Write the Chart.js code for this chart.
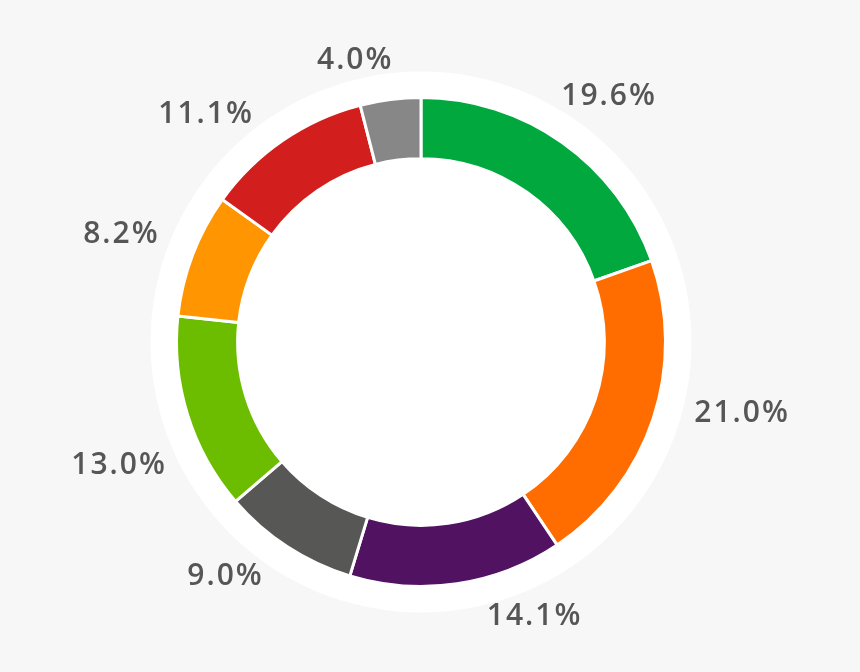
<!DOCTYPE html>
<html>
<head>
<meta charset="utf-8">
<script src="https://cdn.jsdelivr.net/npm/chart.js@4"></script>
<style>
  html, body { margin: 0; padding: 0; background: #f7f7f7; }
  #wrap { width: 860px; height: 672px; }
</style>
</head>
<body>
<div id="wrap"><canvas id="donut" width="860" height="672"></canvas></div>
<script>
// Data (shares in %, clockwise from 12 o'clock)
const categories = ['A', 'B', 'C', 'D', 'E', 'F', 'G', 'H'];
const shares = [19.6, 21.0, 14.1, 9.0, 13.0, 8.2, 11.1, 4.0];
const sliceColors = ['#00a83e', '#ff6d00', '#521262', '#575755', '#6cbd00', '#ff9500', '#d31e1e', '#878787'];

// small angle tweaks (degrees) so labels sit where the original put them
const labelNudge = [-5.5, -3.7, -5, 0.7, -8.6, 1.4, -1.9, 1.6];

// white disc behind the ring
const backdrop = {
  id: 'backdrop',
  beforeDatasetsDraw(chart) {
    const arc = chart.getDatasetMeta(0).data[0];
    if (!arc) return;
    const { ctx } = chart;
    ctx.save();
    ctx.beginPath();
    ctx.arc(arc.x, arc.y, arc.outerRadius + 26, 0, Math.PI * 2);
    ctx.fillStyle = '#ffffff';
    ctx.fill();
    ctx.restore();
  }
};

// percentage labels outside each slice, near edge anchored on a ring
const outerLabels = {
  id: 'outerLabels',
  afterDatasetsDraw(chart) {
    const { ctx } = chart;
    const meta = chart.getDatasetMeta(0);
    ctx.save();
    ctx.font = '600 30px "Open Sans", sans-serif';
    ctx.letterSpacing = '2px';
    ctx.fillStyle = '#565656';
    ctx.textBaseline = 'middle';
    meta.data.forEach((arc, i) => {
      const mid = (arc.startAngle + arc.endAngle) / 2 + labelNudge[i] * Math.PI / 180;
      const r = arc.outerRadius + 38;
      const x = arc.x + Math.cos(mid) * r;
      const y = arc.y + Math.sin(mid) * r;
      const rightSide = Math.cos(mid) >= 0;
      ctx.textAlign = rightSide ? 'left' : 'right';
      ctx.fillText(shares[i].toFixed(1) + '%', x, y);
    });
    ctx.restore();
  }
};

new Chart(document.getElementById('donut'), {
  type: 'doughnut',
  data: {
    labels: categories,
    datasets: [{
      data: shares,
      backgroundColor: sliceColors,
      borderColor: '#ffffff',
      borderWidth: 3
    }]
  },
  options: {
    responsive: false,
    animation: false,
    cutout: '75%',
    layout: { padding: { top: 96, bottom: 84, left: 175, right: 193 } },
    plugins: {
      legend: { display: false },
      tooltip: { enabled: false }
    }
  },
  plugins: [backdrop, outerLabels]
});
</script>
</body>
</html>
